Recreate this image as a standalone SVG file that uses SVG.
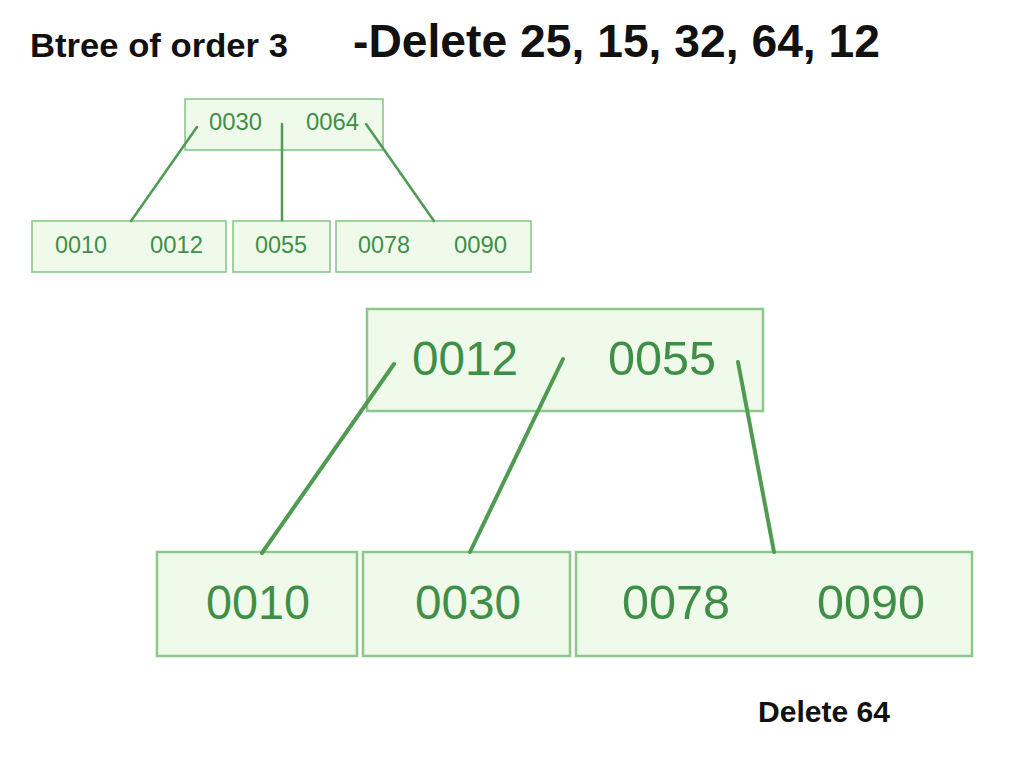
<svg xmlns="http://www.w3.org/2000/svg" width="1024" height="767" viewBox="0 0 1024 767">
<style>
.title{font-family:"Liberation Sans",Arial,sans-serif;font-weight:bold;fill:#111}
.box{fill:#effaeb;stroke:#8ac98a}
.sm{stroke-width:1.6}
.lg{stroke-width:2.5}
.txt{font-family:"Liberation Sans",Arial,sans-serif;fill:#3f8f47}
.s{font-size:23px}
.l{font-size:48px}
.edge{stroke:#4f9b52;fill:none;stroke-linecap:round}
</style>
<rect width="1024" height="767" fill="#ffffff"/>
<text class="title" x="30" y="57" font-size="33" textLength="258" lengthAdjust="spacingAndGlyphs">Btree of order 3</text>
<text class="title" x="353" y="57" font-size="46" textLength="527" lengthAdjust="spacingAndGlyphs">-Delete 25, 15, 32, 64, 12</text>
<text class="title" x="758" y="722" font-size="30" textLength="132" lengthAdjust="spacingAndGlyphs">Delete 64</text>

<g id="small-root">
<rect class="box sm" x="185" y="99" width="198" height="51"/>
<text class="txt s" x="209" y="130" textLength="53" lengthAdjust="spacingAndGlyphs">0030</text>
<text class="txt s" x="306" y="130" textLength="53" lengthAdjust="spacingAndGlyphs">0064</text>
</g>
<g id="small-leaf1">
<rect class="box sm" x="32" y="221" width="194" height="51"/>
<text class="txt s" x="55" y="253" textLength="52" lengthAdjust="spacingAndGlyphs">0010</text>
<text class="txt s" x="150" y="253" textLength="53" lengthAdjust="spacingAndGlyphs">0012</text>
</g>
<g id="small-leaf2">
<rect class="box sm" x="233" y="221" width="97" height="51"/>
<text class="txt s" x="255" y="253" textLength="52" lengthAdjust="spacingAndGlyphs">0055</text>
</g>
<g id="small-leaf3">
<rect class="box sm" x="336" y="221" width="195" height="51"/>
<text class="txt s" x="358" y="253" textLength="52" lengthAdjust="spacingAndGlyphs">0078</text>
<text class="txt s" x="454" y="253" textLength="53" lengthAdjust="spacingAndGlyphs">0090</text>
</g>

<g id="big-root">
<rect class="box lg" x="367" y="309" width="396" height="102"/>
<text class="txt l" x="412" y="375" textLength="106" lengthAdjust="spacingAndGlyphs">0012</text>
<text class="txt l" x="608" y="375" textLength="108" lengthAdjust="spacingAndGlyphs">0055</text>
</g>
<g id="big-leaf1">
<rect class="box lg" x="157" y="552" width="200" height="104"/>
<text class="txt l" x="206" y="619" textLength="104" lengthAdjust="spacingAndGlyphs">0010</text>
</g>
<g id="big-leaf2">
<rect class="box lg" x="363" y="552" width="207" height="104"/>
<text class="txt l" x="415" y="619" textLength="106" lengthAdjust="spacingAndGlyphs">0030</text>
</g>
<g id="big-leaf3">
<rect class="box lg" x="576" y="552" width="396" height="104"/>
<text class="txt l" x="622" y="619" textLength="108" lengthAdjust="spacingAndGlyphs">0078</text>
<text class="txt l" x="817" y="619" textLength="108" lengthAdjust="spacingAndGlyphs">0090</text>
</g>

<g id="connectors">
<line class="edge" stroke-width="2.5" x1="197" y1="127" x2="131" y2="221"/>
<line class="edge" stroke-width="2.5" x1="282" y1="124" x2="282" y2="220"/>
<line class="edge" stroke-width="2.5" x1="366" y1="124" x2="434" y2="221"/>
<line class="edge" stroke-width="4" x1="394" y1="364" x2="262" y2="553"/>
<line class="edge" stroke-width="4" x1="563" y1="359" x2="470" y2="552"/>
<line class="edge" stroke-width="4" x1="738" y1="362" x2="774" y2="552"/>
</g>
</svg>
